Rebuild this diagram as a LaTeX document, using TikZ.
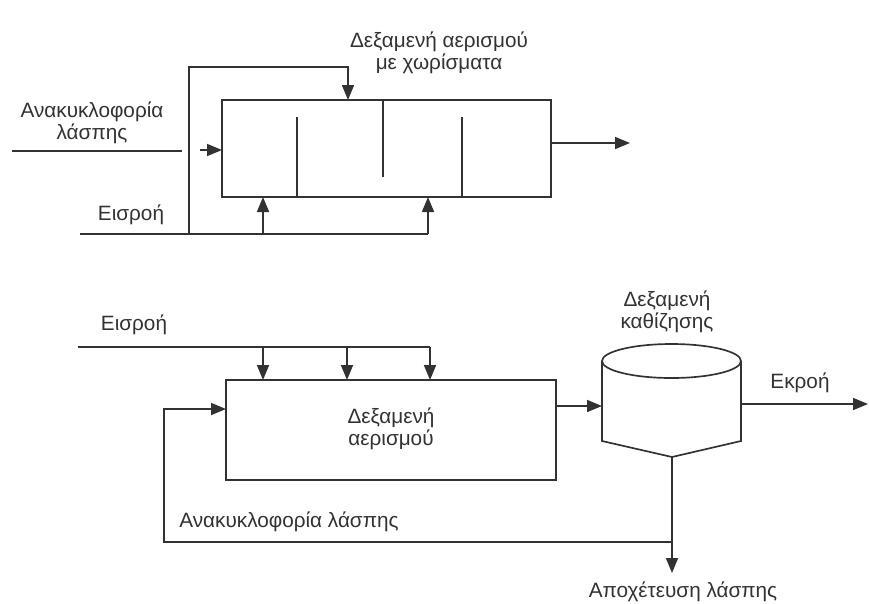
\documentclass[tikz,border=0pt]{standalone}
\usepackage{fontspec}
\setmainfont{Liberation Sans}
\usetikzlibrary{arrows.meta}
\definecolor{ink}{RGB}{50,50,50}

\tikzset{
  pipe/.style={draw=ink, line width=0.95pt},
  flow/.style={pipe, -{Triangle[length=3mm,width=2.4mm]}},
  lbl/.style={inner sep=0pt, text=ink, font=\fontsize{11.8}{11.2}\selectfont, align=center},
}

\begin{document}
\begin{tikzpicture}[x=0.02cm,y=-0.02cm]
  \useasboundingbox (0,0) rectangle (869,603);

  % baffled aeration tank
  \coordinate (T1) at (222,100);
  \coordinate (T2) at (551,197);
  \coordinate (inA) at (80,234);
  \coordinate (jA) at (189,234);
  \coordinate (topA) at (189,67);
  \coordinate (dropA) at (348,67);
  \coordinate (feedA1) at (263,234);
  \coordinate (feedA2) at (428,234);
  \coordinate (rasA) at (12,151);
  \coordinate (rasAend) at (182,151);
  \coordinate (rasAarr) at (200,150);
  \coordinate (outA) at (551,143);
  \coordinate (outAend) at (630,143);

  \draw[pipe] (T1) rectangle (T2);
  \draw[pipe] (297,117) -- (297,197);
  \draw[pipe] (383,100) -- (383,177);
  \draw[pipe] (462,117) -- (462,197);

  \draw[pipe] (inA) -- (feedA2);
  \draw[flow] (jA) -- (topA) -- (dropA) -- (dropA |- T1);
  \draw[flow] (feedA1) -- (feedA1 |- T2);
  \draw[flow] (feedA2) -- (feedA2 |- T2);
  \draw[pipe] (rasA) -- (rasAend);
  \draw[flow] (rasAarr) -- (rasAarr -| T1);
  \draw[flow] (outA) -- (outAend);

  \node[lbl] (ras1) at (92,123) {Ανακυκλοφορία\\λάσπης};
  \node[lbl] (in1) at (131,215) {Εισροή};
  \node[lbl] (tank1) at (439,53) {Δεξαμενή αερισμού\\με χωρίσματα};

  % aeration tank + clarifier
  \coordinate (B1) at (226,380);
  \coordinate (B2) at (556,480);
  \coordinate (inB) at (78,347);
  \coordinate (feedB1) at (263,347);
  \coordinate (feedB2) at (347,347);
  \coordinate (feedB3) at (430,347);
  \coordinate (mix) at (556,406);
  \coordinate (C) at (671.5,361);
  \coordinate (CL) at (602,361);
  \coordinate (CR) at (741,361);
  \coordinate (CLb) at (602,441);
  \coordinate (CRb) at (741,441);
  \coordinate (cone) at (672,457);
  \coordinate (rasB) at (672,542);
  \coordinate (rasBl) at (164,542);
  \coordinate (rasBt) at (164,409);
  \coordinate (waste) at (672,573);
  \coordinate (eff) at (741,404);
  \coordinate (effend) at (868,404);

  \draw[pipe] (B1) rectangle (B2);
  \draw[pipe] (C) ellipse [x radius=69.5, y radius=17];
  \draw[pipe] (CL) -- (CLb) -- (cone) -- (CRb) -- (CR);

  \draw[pipe] (inB) -- (feedB3);
  \foreach \f in {feedB1,feedB2,feedB3}
    \draw[flow] (\f) -- (\f |- B1);
  \draw[flow] (mix) -- (mix -| CL);
  \draw[flow] (eff) -- (effend);
  \draw[flow] (cone) -- (waste);
  \draw[flow] (rasB) -- (rasBl) -- (rasBt) -- (rasBt -| B1);

  \node[lbl] (in2) at (134,325) {Εισροή};
  \node[lbl] (tank2) at (391,429) {Δεξαμενή\\αερισμού};
  \node[lbl] (clar) at (667,312) {Δεξαμενή\\καθίζησης};
  \node[lbl] (effl) at (800,383) {Εκροή};
  \node[lbl] (ras2) at (289,522) {Ανακυκλοφορία λάσπης};
  \node[lbl] (was) at (683,592) {Αποχέτευση λάσπης};
\end{tikzpicture}
\end{document}
